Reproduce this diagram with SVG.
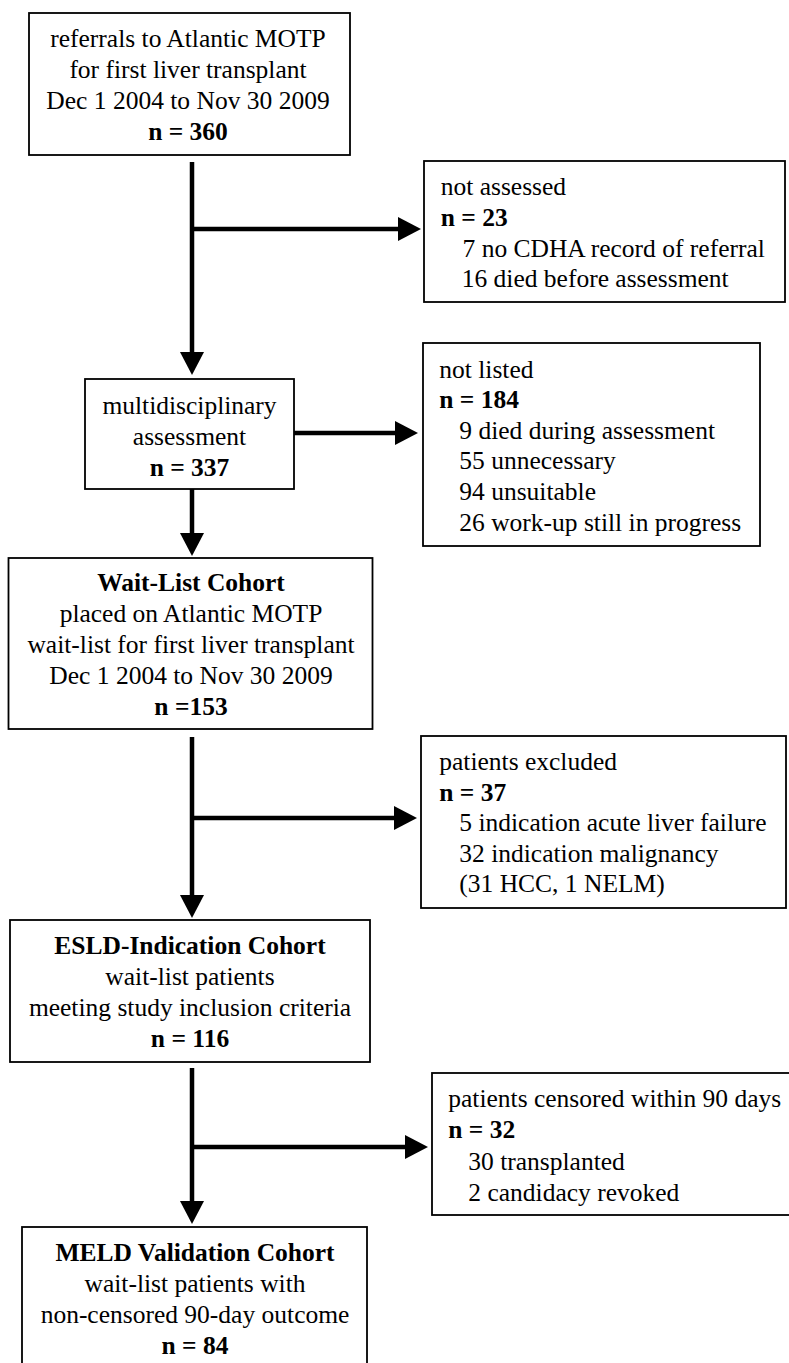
<svg xmlns="http://www.w3.org/2000/svg" width="789" height="1363" viewBox="0 0 789 1363">
<style>
.t{font-family:"Liberation Serif","Times New Roman",serif;font-size:25.5px;fill:#000}
.b{font-weight:bold}
.c{text-anchor:middle}
.box{fill:#fff;stroke:#000;stroke-width:1.8}
.ln{stroke:#000;stroke-width:4.5;fill:none;marker-end:url(#ah)}
</style>
<defs>
<marker id="ah" markerUnits="userSpaceOnUse" markerWidth="24" markerHeight="24" refX="0" refY="12" orient="auto" overflow="visible">
<path d="M0,0 L23,12 L0,24 Z" fill="#000"/>
</marker>
</defs>
<rect width="789" height="1363" fill="#fff"/>
<g id="connectors">
<path class="ln" d="M192,162 V352"/>
<path class="ln" d="M192,229 H398"/>
<path class="ln" d="M192,489 V533"/>
<path class="ln" d="M294,433 H395"/>
<path class="ln" d="M192,737 V895"/>
<path class="ln" d="M192,818 H394"/>
<path class="ln" d="M192,1068 V1201"/>
<path class="ln" d="M192,1147 H405"/>
</g>
<g id="referrals">
<rect class="box" x="29" y="13" width="321" height="142"/>
<text class="t c" x="188" y="47">referrals to Atlantic MOTP</text>
<text class="t c" x="188" y="78">for first liver transplant</text>
<text class="t c" x="188" y="109">Dec 1 2004 to Nov 30 2009</text>
<text class="t c b" x="188" y="140">n = 360</text>
</g>
<g id="not-assessed">
<rect class="box" x="424" y="161" width="361" height="141"/>
<text class="t" x="440.7" y="195">not assessed</text>
<text class="t b" x="440.7" y="225.8">n = 23</text>
<text class="t" x="462.5" y="256.6">7 no CDHA record of referral</text>
<text class="t" x="461.7" y="287.4">16 died before assessment</text>
</g>
<g id="assessment">
<rect class="box" x="85" y="379" width="209" height="110"/>
<text class="t c" x="189.5" y="414">multidisciplinary</text>
<text class="t c" x="189.5" y="445">assessment</text>
<text class="t c b" x="189.5" y="476">n = 337</text>
</g>
<g id="not-listed">
<rect class="box" x="423" y="343" width="337" height="203"/>
<text class="t" x="439.3" y="377.5">not listed</text>
<text class="t b" x="439.3" y="408.1">n = 184</text>
<text class="t" x="459.3" y="438.7">9 died during assessment</text>
<text class="t" x="459.3" y="469.3">55 unnecessary</text>
<text class="t" x="459.3" y="499.9">94 unsuitable</text>
<text class="t" x="459.3" y="530.5">26 work-up still in progress</text>
</g>
<g id="wait-list">
<rect class="box" x="8.5" y="558" width="364" height="171"/>
<text class="t c b" x="191" y="591">Wait-List Cohort</text>
<text class="t c" x="191" y="622">placed on Atlantic MOTP</text>
<text class="t c" x="191" y="653">wait-list for first liver transplant</text>
<text class="t c" x="191" y="684">Dec 1 2004 to Nov 30 2009</text>
<text class="t c b" x="191" y="715">n =153</text>
</g>
<g id="excluded">
<rect class="box" x="421" y="736" width="365" height="172"/>
<text class="t" x="439.3" y="770">patients excluded</text>
<text class="t b" x="439.3" y="800.6">n = 37</text>
<text class="t" x="459.3" y="831.2">5 indication acute liver failure</text>
<text class="t" x="459.3" y="861.8">32 indication malignancy</text>
<text class="t" x="459.3" y="892.4">(31 HCC, 1 NELM)</text>
</g>
<g id="esld">
<rect class="box" x="10" y="920" width="360" height="142"/>
<text class="t c b" x="190" y="954">ESLD-Indication Cohort</text>
<text class="t c" x="190" y="985">wait-list patients</text>
<text class="t c" x="190" y="1016">meeting study inclusion criteria</text>
<text class="t c b" x="190" y="1047">n = 116</text>
</g>
<g id="censored">
<rect class="box" x="432" y="1073" width="362" height="142"/>
<text class="t" x="448.3" y="1107">patients censored within 90 days</text>
<text class="t b" x="448.3" y="1138">n = 32</text>
<text class="t" x="468.3" y="1169.5">30 transplanted</text>
<text class="t" x="468.3" y="1201">2 candidacy revoked</text>
</g>
<g id="meld">
<rect class="box" x="22" y="1227" width="345" height="145"/>
<text class="t c b" x="195" y="1261">MELD Validation Cohort</text>
<text class="t c" x="195" y="1292">wait-list patients with</text>
<text class="t c" x="195" y="1323">non-censored 90-day outcome</text>
<text class="t c b" x="195" y="1354">n = 84</text>
</g>
</svg>
